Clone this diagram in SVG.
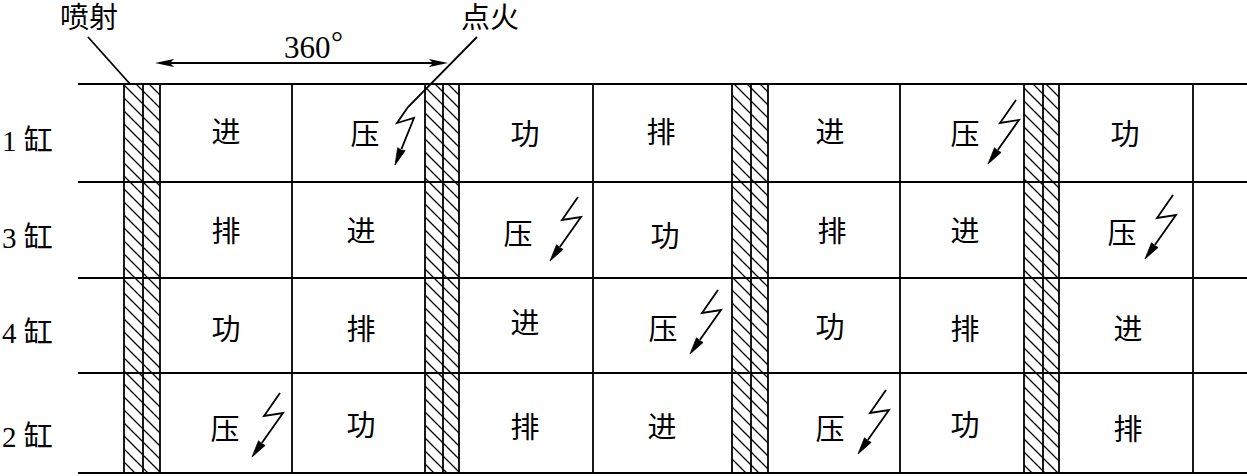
<svg xmlns="http://www.w3.org/2000/svg" xmlns:xlink="http://www.w3.org/1999/xlink" width="1247" height="476" viewBox="0 0 1247 476">
<style>
.ln{stroke:#000;stroke-width:1.8;fill:none}
.t{font-family:"Liberation Serif","Noto Sans CJK SC",serif;font-size:29px;fill:#000}
.c{text-anchor:middle}
.deg{font-family:"Liberation Serif",serif;font-size:31px;fill:#000}
.bolt polyline{stroke:#000;stroke-width:1.8;fill:none}
.bolt path{fill:#000;stroke:#000;stroke-width:0.8}
</style>
<defs>
<pattern id="hatch" patternUnits="userSpaceOnUse" width="13" height="13">
<path d="M-1,-1 L14,14 M-1,12 L1,14 M12,-1 L14,1" stroke="#000" stroke-width="1.3"/>
</pattern>
<g id="bolt" class="bolt">
<polyline points="0,0 -16,23 3,20 -18.2,50.1"/>
<path d="M-28,64 L-21.5,47.8 L-18.5,50.5 L-14.9,52.4 Z"/>
</g>
</defs>
<rect width="1247" height="476" fill="#fff"/>

<g id="grid">
<line class="ln" x1="78" y1="84" x2="1247" y2="84"/>
<line class="ln" x1="78" y1="182" x2="1247" y2="182"/>
<line class="ln" x1="78" y1="278" x2="1247" y2="278"/>
<line class="ln" x1="78" y1="373" x2="1247" y2="373"/>
<line class="ln" x1="78" y1="473" x2="1247" y2="473"/>
<line class="ln" x1="292" y1="84" x2="292" y2="473"/>
<line class="ln" x1="593" y1="84" x2="593" y2="473"/>
<line class="ln" x1="900" y1="84" x2="900" y2="473"/>
<line class="ln" x1="1193" y1="84" x2="1193" y2="473"/>
</g>

<g id="injection-bands">
<rect x="124" y="84" width="36" height="389" fill="url(#hatch)"/>
<line class="ln" x1="124" y1="84" x2="124" y2="473"/>
<line class="ln" x1="143" y1="84" x2="143" y2="473"/>
<line class="ln" x1="160" y1="84" x2="160" y2="473"/>
<rect x="425" y="84" width="34" height="389" fill="url(#hatch)"/>
<line class="ln" x1="425" y1="84" x2="425" y2="473"/>
<line class="ln" x1="443" y1="84" x2="443" y2="473"/>
<line class="ln" x1="459" y1="84" x2="459" y2="473"/>
<rect x="732" y="84" width="36" height="389" fill="url(#hatch)"/>
<line class="ln" x1="732" y1="84" x2="732" y2="473"/>
<line class="ln" x1="751" y1="84" x2="751" y2="473"/>
<line class="ln" x1="768" y1="84" x2="768" y2="473"/>
<rect x="1024" y="84" width="35" height="389" fill="url(#hatch)"/>
<line class="ln" x1="1024" y1="84" x2="1024" y2="473"/>
<line class="ln" x1="1043" y1="84" x2="1043" y2="473"/>
<line class="ln" x1="1059" y1="84" x2="1059" y2="473"/>
</g>

<g id="labels">
<text class="t c" x="89" y="28">喷射</text>
<text class="t c" x="490" y="28">点火</text>
<text class="deg" x="284" y="58">360</text>
<text class="deg" x="331" y="52" style="font-size:30px">°</text>
<text class="t" x="2" y="151">1 缸</text>
<text class="t" x="2" y="248">3 缸</text>
<text class="t" x="2" y="343">4 缸</text>
<text class="t" x="2" y="447">2 缸</text>
</g>

<g id="connectors">
<line class="ln" x1="88" y1="37" x2="130" y2="84"/>
<line class="ln" x1="170" y1="63" x2="433" y2="63"/>
<path d="M155,63 L174,59 L170,63 L174,67 Z" fill="#000"/>
<path d="M448,63 L429,59 L433,63 L429,67 Z" fill="#000"/>
<g class="bolt">
<polyline points="477,37 408,107 397,123 414,118 401.4,149.2"/>
<path d="M395,165 L397.7,147.7 L401,150 L405.1,150.7 Z"/>
</g>
<use xlink:href="#bolt" transform="translate(1016,100)"/>
<use xlink:href="#bolt" transform="translate(578,197)"/>
<use xlink:href="#bolt" transform="translate(1173,195)"/>
<use xlink:href="#bolt" transform="translate(718,290)"/>
<use xlink:href="#bolt" transform="translate(280,393)"/>
<use xlink:href="#bolt" transform="translate(886,390)"/>
</g>

<g id="cyl1">
<text class="t c" x="226" y="143">进</text>
<text class="t c" x="365" y="145">压</text>
<text class="t c" x="525" y="145">功</text>
<text class="t c" x="661" y="143">排</text>
<text class="t c" x="830" y="143">进</text>
<text class="t c" x="965" y="145">压</text>
<text class="t c" x="1125" y="145">功</text>
</g>
<g id="cyl3">
<text class="t c" x="226" y="242">排</text>
<text class="t c" x="361" y="242">进</text>
<text class="t c" x="518" y="245">压</text>
<text class="t c" x="665" y="247">功</text>
<text class="t c" x="832" y="242">排</text>
<text class="t c" x="965" y="242">进</text>
<text class="t c" x="1122" y="244">压</text>
</g>
<g id="cyl4">
<text class="t c" x="226" y="340">功</text>
<text class="t c" x="361" y="340">排</text>
<text class="t c" x="525" y="334">进</text>
<text class="t c" x="663" y="340">压</text>
<text class="t c" x="830" y="338">功</text>
<text class="t c" x="965" y="340">排</text>
<text class="t c" x="1128" y="340">进</text>
</g>
<g id="cyl2">
<text class="t c" x="225" y="440">压</text>
<text class="t c" x="361" y="436">功</text>
<text class="t c" x="525" y="438">排</text>
<text class="t c" x="662" y="438">进</text>
<text class="t c" x="830" y="440">压</text>
<text class="t c" x="965" y="436">功</text>
<text class="t c" x="1128" y="440">排</text>
</g>
</svg>
